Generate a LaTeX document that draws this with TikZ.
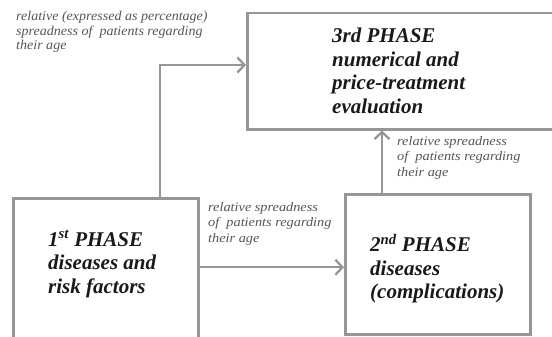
\documentclass[tikz,border=0pt]{standalone}
\usepackage{fontspec}
\setmainfont{Liberation Serif}
\newfontfamily\lblfont[FakeStretch=1.1]{Liberation Serif}
\newfontfamily\lblfontn[FakeStretch=1.04]{Liberation Serif}
\usetikzlibrary{arrows.meta}
\definecolor{linegray}{RGB}{150,150,150}
\definecolor{lblgray}{RGB}{85,85,85}
\definecolor{txtdark}{RGB}{25,25,25}
\tikzset{
  phasebox/.style={draw=linegray, line width=2.5pt, anchor=north west, inner sep=0pt},
  phasetext/.style={anchor=north west, inner sep=0pt, align=left, text=txtdark,
    font=\fontsize{21}{23.5}\selectfont\bfseries\itshape},
  lbltext/.style={anchor=north west, inner sep=0pt, align=left, text=lblgray,
    font=\lblfont\fontsize{13}{15.5}\selectfont\itshape},
  lbltextn/.style={anchor=north west, inner sep=0pt, align=left, text=lblgray,
    font=\lblfontn\fontsize{13.5}{14.5}\selectfont\itshape},
  conn/.style={draw=linegray, line width=2.3pt,
    -{Straight Barb[length=7pt,width=15pt,line width=2.3pt]}}
}
\begin{document}
\begin{tikzpicture}[x=1pt,y=-1pt]
\useasboundingbox (0,0) rectangle (552,337);
\clip (0,0) rectangle (552,337);
% boxes
\node[phasebox, minimum width=330pt, minimum height=116pt] (b3) at (246,12) {};
\node[phasebox, minimum width=185pt, minimum height=160pt] (b1) at (12,197) {};
\node[phasebox, minimum width=185pt, minimum height=140pt] (b2) at (344,193) {};
% box texts
\node[phasetext] (t3) at (332,28) {3rd PHASE\\numerical and\\price-treatment\\evaluation};
\node[phasetext] (t1) at (48,230) {1\textsuperscript{st} PHASE\\diseases and\\risk factors};
\node[phasetext] (t2) at (370,234) {2\textsuperscript{nd} PHASE\\diseases\\(complications)};
% labels
\node[lbltextn] (l1) at (16,11) {relative (expressed as percentage)\\spreadness of\ \ patients regarding\\their age};
\node[lbltext] (l2) at (208,202) {relative spreadness\\of\ \ patients regarding\\their age};
\node[lbltext] (l3) at (397,136) {relative spreadness\\of\ \ patients regarding\\their age};
% connectors
\coordinate (c1) at (160,65);
\draw[conn] (b1.north -| c1) |- (b3.west |- c1);
\draw[conn] ([yshift=11pt]b1.east) -- ([yshift=11pt]b1.east -| b2.west);
\draw[conn] (b2.north -| 382,0) -- (b3.south -| 382,0);
\end{tikzpicture}
\end{document}
